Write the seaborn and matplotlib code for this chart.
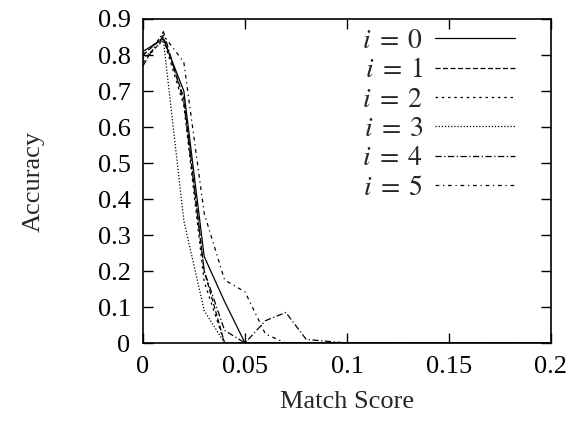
import pandas as pd
import seaborn as sns
import matplotlib.pyplot as plt
from matplotlib.lines import Line2D

# match score thresholds
scores = [0.0, 0.01, 0.02, 0.03, 0.04, 0.05, 0.06, 0.07, 0.08, 0.09, 0.10,
          0.12, 0.14, 0.16, 0.18, 0.20]

acc_0 = [0.81, 0.845, 0.70, 0.24, 0.115, 0.0, 0.0, 0.0, 0.0, 0.0, 0.0, 0.0, 0.0, 0.0, 0.0, 0.0]
acc_1 = [0.80, 0.85, 0.68, 0.20, 0.0, 0.0, 0.0, 0.0, 0.0, 0.0, 0.0, 0.0, 0.0, 0.0, 0.0, 0.0]
acc_2 = [0.78, 0.845, 0.66, 0.17, 0.0, 0.0, 0.0, 0.0, 0.0, 0.0, 0.0, 0.0, 0.0, 0.0, 0.0, 0.0]
acc_3 = [0.79, 0.84, 0.34, 0.09, 0.0, 0.0, 0.0, 0.0, 0.0, 0.0, 0.0, 0.0, 0.0, 0.0, 0.0, 0.0]
acc_4 = [0.77, 0.865, 0.67, 0.20, 0.035, 0.0, 0.062, 0.085, 0.01, 0.005, 0.0, 0.0, 0.0, 0.0, 0.0, 0.0]
acc_5 = [0.80, 0.855, 0.78, 0.36, 0.175, 0.142, 0.025, 0.0, 0.0, 0.0, 0.0, 0.0, 0.0, 0.0, 0.0, 0.0]

series = [acc_0, acc_1, acc_2, acc_3, acc_4, acc_5]
series_ids = ['0', '1', '2', '3', '4', '5']

rows = []
for sid, vals in zip(series_ids, series):
    for s, a in zip(scores, vals):
        rows.append({'score': s, 'acc': a, 'i': sid})
df = pd.DataFrame(rows)

sns.set_style('ticks')
plt.rcParams['font.family'] = ['Liberation Serif', 'DejaVu Serif']
plt.rcParams['mathtext.fontset'] = 'stix'
plt.rcParams['font.size'] = 19

dashes = {
    '0': '',
    '1': (4, 2),
    '2': (2, 3),
    '3': (1, 1.5),
    '4': (5, 2, 1, 2),
    '5': (3, 3, 1, 3),
}

fig = plt.figure(figsize=(5.73, 4.26), dpi=100)
ax = fig.add_axes([0.2496, 0.1948, 0.712, 0.7606])

sns.lineplot(data=df, x='score', y='acc', style='i', dashes=dashes,
             color='black', linewidth=0.9, legend=False, ax=ax,
             sort=False, estimator=None)

ax.set_xlim(0, 0.2)
ax.set_ylim(0, 0.9)
ax.set_xticks([0, 0.05, 0.1, 0.15, 0.2])
ax.set_xticklabels(['0', '0.05', '0.1', '0.15', '0.2'])
ax.set_yticks([i / 10 for i in range(10)])
ax.set_yticklabels(['0'] + [f'0.{i}' for i in range(1, 10)])
ax.tick_params(direction='in', length=7, width=1, top=True, right=True,
               labelsize=19, pad=9, colors='black')
for sp in ax.spines.values():
    sp.set_visible(True)
    sp.set_linewidth(1.2)
    sp.set_color('black')

ax.set_xlabel('Match Score', fontsize=19, labelpad=10)
ax.set_ylabel('Accuracy', fontsize=19, labelpad=38)

handles = [Line2D([], [], color='black', linewidth=0.9,
                  dashes=dashes[sid] if dashes[sid] else (None, None))
           for sid in series_ids]
labels = [f'$i\\;=\\;{sid}$' for sid in series_ids]
ax.legend(handles, labels, loc='upper right', frameon=False, markerfirst=False,
          handlelength=2.9, labelspacing=0.14, handletextpad=0.4,
          borderaxespad=0, borderpad=0,
          bbox_to_anchor=(0.912, 0.97), fontsize=20)

fig.savefig('out.png', dpi=100)
